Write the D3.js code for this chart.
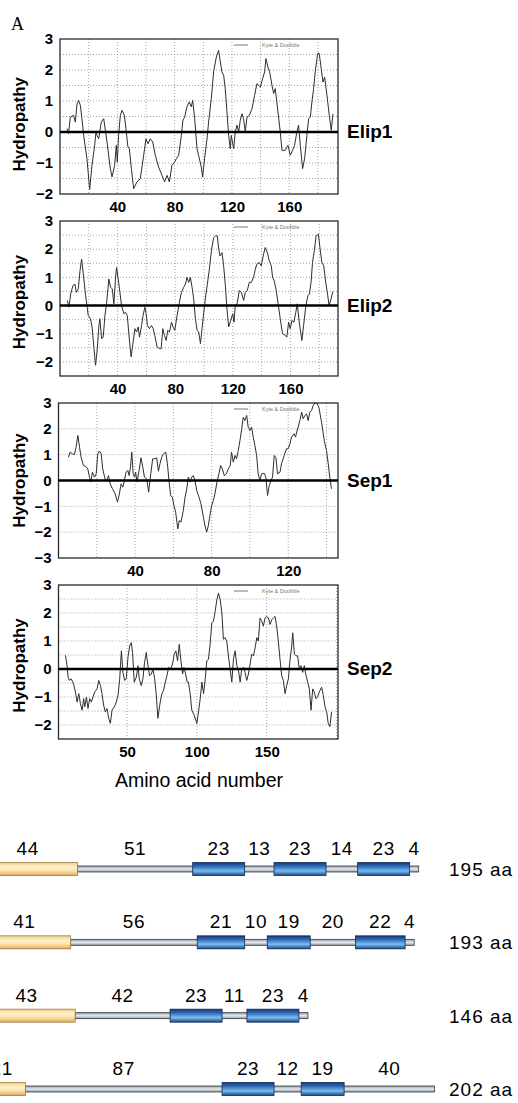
<!doctype html>
<html>
<head>
<meta charset="UTF-8">
<title>Hydropathy plots</title>
<style>
  body { margin: 0; background: #fff; }
  svg { display: block; font-family: "Liberation Sans", Arial, Helvetica, sans-serif; }
</style>
</head>
<body>
<div id="chart"></div>
<script src="https://cdn.jsdelivr.net/npm/d3@7"></script>
<script>
// hydropathy profiles, [amino acid position, Kyte & Doolittle value]
var elip1 = [[4.9,0.11],[6.0,-0.05],[7.2,0.48],[9.5,0.54],[10.7,0.32],[11.9,0.91],[13.0,1.02],[14.2,0.86],[15.3,0.43],[16.5,-0.11],[18.8,-0.86],[20.7,-1.85],[22.3,-1.08],[24.2,-0.43],[25.1,0],[25.8,-0.11],[27.0,-0.22],[28.8,0.32],[30.5,0.43],[32.8,-0.32],[35.1,-1.18],[36.3,-1.45],[38.1,-1.08],[39.3,-0.43],[40.0,-0.97],[40.9,-0.11],[42.1,0.54],[43.3,0.70],[44.9,0.54],[46.0,0.11],[47.4,-0.48],[48.4,-0.54],[49.8,-1.18],[51.4,-1.83],[53.7,-1.61],[56.0,-1.51],[58.4,-0.75],[60.0,-0.22],[61.4,-0.38],[63.0,-0.22],[64.7,-0.32],[66.5,-0.75],[68.8,-1.13],[71.2,-1.40],[73.0,-1.61],[74.7,-1.40],[76.3,-1.61],[78.1,-1.08],[80.0,-0.97],[81.2,-0.86],[82.8,-0.75],[84.7,-0.11],[85.8,0.38],[87.0,0.48],[88.6,0.81],[90.2,0.97],[91.6,0.81],[92.6,1.02],[94.0,0.43],[95.6,-0.54],[96.7,-0.75],[98.6,-1.13],[99.5,-1.45],[100.9,-0.86],[102.6,-0.22],[103.7,0.32],[105.6,1.08],[107.2,1.94],[109.1,2.42],[110.7,2.63],[111.9,2.26],[113.0,1.94],[114.2,1.83],[115.3,1.40],[116.5,0.65],[117.7,-0.11],[118.8,-0.54],[119.5,-0.11],[121.2,-0.54],[122.3,0],[123.5,0.22],[124.7,0],[125.8,0.38],[127.0,0.59],[128.1,0.43],[129.3,0],[130.5,0.48],[132.1,0.54],[134.0,0.75],[135.8,1.18],[137.4,1.56],[139.8,1.45],[141.4,1.72],[142.8,1.94],[143.7,2.37],[145.1,2.10],[146.3,1.94],[147.9,1.51],[149.1,1.24],[150.2,1.40],[152.1,0.65],[153.7,0],[154.9,-0.59],[157.2,-0.59],[159.1,-0.43],[160.7,-0.75],[162.3,-0.59],[163.7,-0.43],[165.3,0],[166.5,0.22],[167.7,-0.43],[169.3,-1.18],[170.7,-0.86],[172.3,-0.11],[173.5,0.43],[174.7,0.48],[175.8,0.97],[177.0,1.40],[178.1,1.94],[179.8,2.53],[180.9,2.53],[182.3,2.04],[183.5,1.61],[184.7,1.77],[186.3,1.18],[187.9,0.54],[189.3,0.05],[190.5,0.59]];

var elip2 = [[5.1,0.18],[6.2,-0.06],[7.4,0.41],[9.0,0.71],[10.4,0.76],[11.3,0.47],[12.7,0.59],[13.9,1.24],[15.0,1.65],[16.2,1.12],[17.8,0.35],[18.9,-0.06],[19.6,-0.35],[21.2,-0.47],[22.4,-0.82],[23.6,-1.53],[24.7,-2.12],[25.9,-1.53],[27.0,-0.71],[27.7,-0.47],[28.9,-1.18],[30.0,-1.12],[31.2,-0.35],[32.3,0.06],[33.9,0.94],[35.1,0.65],[36.3,0.59],[37.4,0.06],[38.6,1.0],[39.3,1.35],[40.4,0.94],[41.3,0.59],[42.7,0],[44.3,-0.29],[45.5,-0.24],[46.7,-0.35],[48.3,-1.29],[49.4,-1.82],[50.8,-1.29],[52.0,-0.82],[53.1,-0.94],[54.3,-0.76],[55.2,-1.12],[56.6,-0.71],[57.7,-0.35],[58.9,-0.06],[59.8,-0.29],[60.7,-0.71],[62.1,-0.82],[63.5,-0.71],[64.7,-0.82],[65.8,-1.06],[67.4,-1.47],[69.1,-1.53],[70.2,-1.53],[71.4,-0.82],[72.5,-1.06],[73.7,-1.24],[74.8,-0.88],[76.0,-0.94],[77.4,-0.59],[78.5,-0.76],[79.7,-0.88],[81.3,-0.35],[82.9,0.12],[84.3,0.47],[85.9,0.65],[87.1,0.76],[88.2,1.0],[89.4,0.82],[90.5,1.0],[91.7,0.65],[92.8,0.24],[94.0,-0.47],[95.2,-0.88],[96.3,-0.94],[97.5,-1.35],[98.6,-0.82],[99.8,-0.24],[100.9,0.24],[102.3,0.76],[103.7,1.29],[105.1,1.94],[106.7,2.41],[107.9,2.47],[109.2,2.47],[110.2,2.0],[111.1,1.76],[112.5,1.88],[113.6,1.41],[114.8,0.71],[115.9,-0.12],[117.1,-0.76],[118.5,-0.53],[119.9,-0.29],[120.8,-0.59],[121.7,0],[122.9,0.06],[124.5,0.53],[125.9,0.47],[127.5,0.18],[128.6,0.47],[130.0,0.53],[131.4,0.82],[132.8,0.82],[134.4,1.0],[135.6,1.29],[136.7,1.47],[138.3,1.53],[139.7,1.41],[141.3,1.82],[142.5,2.06],[143.9,1.88],[145.3,1.59],[146.7,1.41],[147.6,1.0],[148.7,0.88],[149.9,0.59],[151.3,0.12],[152.9,-0.47],[154.5,-1.0],[156.4,-1.06],[157.5,-1.12],[158.7,-0.59],[159.8,-0.82],[161.0,-0.53],[162.4,-0.59],[163.7,-0.24],[164.7,0.06],[166.1,-0.59],[167.9,-1.24],[169.1,-0.71],[170.7,0],[172.1,0.35],[173.2,0.41],[174.4,0.88],[175.3,1.53],[176.7,2.0],[177.8,2.47],[179.4,2.53],[180.6,2.0],[181.8,1.53],[183.1,1.41],[184.5,0.82],[185.9,0.35],[186.8,0],[188.2,0.24],[189.4,0.5]];

var sep1 = [[5.2,0.9],[6.1,1.1],[7.3,1.03],[8.3,1.0],[9.2,1.29],[10.1,1.74],[11.0,1.29],[11.8,0.9],[13.0,0.58],[14.3,0.54],[15.3,0.45],[16.2,0.13],[16.9,-0.06],[17.7,0.32],[18.8,0.13],[19.7,0.26],[20.5,1.03],[21.4,1.14],[22.3,1.03],[23.1,0.45],[24.3,0.06],[25.2,0],[26.1,0.19],[27.0,-0.13],[28.2,-0.32],[29.6,-0.52],[30.8,-0.84],[31.8,-0.52],[32.7,-0.13],[33.6,-0.26],[34.4,0],[35.3,0.32],[36.2,0.39],[36.9,0.19],[37.6,0.52],[38.3,1.1],[39.0,0.26],[39.7,0.13],[40.3,0.32],[41.0,-0.06],[42.1,0.39],[43.1,0.88],[44.0,0.52],[44.9,0.13],[46.1,0.06],[47.1,-0.45],[48.2,0.26],[49.2,0.84],[50.4,0.84],[51.3,0.88],[52.2,0.36],[53.0,0.65],[53.9,0.9],[54.8,1.03],[56.0,1.1],[56.9,0.65],[57.7,0],[58.6,-0.58],[59.5,-0.65],[60.3,-0.97],[61.2,-1.23],[62.3,-1.87],[63.1,-1.55],[64.0,-1.61],[65.2,-1.16],[66.1,-0.65],[67.0,-0.32],[67.8,0.13],[68.7,-0.06],[69.6,0.13],[70.4,0.19],[71.3,0],[72.2,-0.39],[73.4,-0.65],[74.4,-0.9],[75.7,-1.42],[76.5,-1.74],[77.4,-2.0],[78.3,-1.74],[79.1,-1.35],[80.0,-0.97],[80.9,-0.77],[81.7,-0.52],[82.8,-0.06],[83.8,0.26],[84.7,0.58],[85.6,0.45],[86.6,0.19],[87.7,0.26],[88.7,0.45],[89.7,0.58],[90.4,1.1],[91.3,0.71],[92.2,0.97],[93.0,0.84],[93.9,1.16],[94.8,1.55],[95.7,2.0],[96.5,2.45],[97.4,2.32],[98.3,2.52],[99.1,2.06],[100.0,1.94],[100.9,2.06],[101.7,1.68],[102.6,1.35],[103.5,0.97],[104.3,0.26],[105.2,0],[106.1,0.26],[107.5,0.28],[108.3,0.13],[109.2,-0.58],[110.1,-0.19],[111.0,0],[111.8,0.13],[112.7,0.97],[113.6,0.88],[114.4,0.26],[115.7,0.32],[116.5,0.65],[117.9,0.97],[119.1,1.23],[120.0,1.23],[120.9,1.42],[121.7,1.68],[123.1,1.81],[123.8,1.68],[124.9,2.0],[126.1,2.32],[127.0,2.65],[127.8,2.39],[128.7,2.52],[129.6,2.58],[130.4,2.32],[131.3,2.65],[132.2,2.71],[133.0,2.9],[133.9,3.0],[134.8,3.0],[136.0,2.84],[137.4,2.26],[138.8,1.55],[140.0,1.16],[140.9,0.65],[141.7,0.13],[142.6,-0.32]];

var sep2 = [[6.0,0.49],[7.1,0.12],[7.9,-0.29],[8.8,-0.41],[10.0,-0.35],[11.2,-0.47],[12.1,-0.59],[13.1,-0.82],[14.3,-1.18],[15.5,-0.88],[16.7,-1.24],[17.9,-1.47],[19.0,-1.06],[19.8,-1.35],[21.0,-1.0],[22.1,-1.41],[23.3,-1.06],[24.5,-1.18],[25.7,-1.0],[26.9,-0.82],[28.6,-0.71],[29.8,-0.41],[31.0,-0.59],[32.1,-0.88],[33.3,-1.29],[34.5,-1.53],[35.7,-1.41],[36.9,-1.76],[38.1,-1.94],[39.3,-1.47],[41.0,-1.35],[42.4,-1.18],[43.6,-0.94],[44.8,-0.35],[46.0,0.65],[47.1,-0.12],[48.3,-0.41],[49.5,-0.35],[50.7,0.41],[51.9,0.82],[53.1,0.94],[54.0,0.59],[55.2,-0.47],[56.7,-0.29],[57.9,0.12],[58.8,-0.35],[60.2,-0.59],[61.4,-0.35],[62.6,0.24],[63.8,0.59],[65.0,0.12],[66.2,-0.24],[67.4,-0.18],[68.6,0],[69.8,-0.35],[71.0,-0.94],[72.1,-1.76],[73.8,-1.18],[75.0,-0.88],[76.2,-0.76],[77.4,-0.47],[78.6,-0.24],[79.8,0.06],[81.2,0],[82.6,0.18],[83.8,0.53],[85.0,0.65],[86.2,0.29],[87.4,0.88],[88.6,0.29],[89.8,-0.18],[90.7,0.06],[91.7,-0.12],[93.1,-0.47],[94.0,-0.47],[95.2,-0.88],[96.4,-1.47],[98.1,-1.65],[100.0,-1.94],[101.2,-1.53],[102.4,-1.06],[103.6,-0.47],[104.8,-0.88],[106.0,-0.35],[107.1,0.29],[108.3,0.35],[109.5,0.88],[110.7,1.65],[111.9,1.71],[113.1,2.06],[114.3,2.47],[115.5,2.71],[116.7,2.47],[117.9,2.0],[119.0,1.06],[120.2,1.12],[121.4,1.0],[122.6,0.47],[123.8,0],[125.0,-0.47],[126.2,0.35],[127.4,0.65],[128.6,0.12],[129.8,-0.06],[131.0,-0.47],[132.1,0],[133.3,0.06],[134.5,-0.12],[135.7,-0.41],[136.9,-0.18],[138.1,0.18],[139.3,0.53],[140.5,0.47],[141.7,0.76],[142.9,1.12],[144.0,1.0],[145.2,1.82],[146.4,1.71],[147.6,1.53],[148.8,1.82],[150.0,1.88],[151.2,1.82],[152.4,1.59],[153.6,1.76],[154.8,1.82],[156.0,1.88],[157.1,1.53],[158.3,1.0],[159.5,0.35],[160.7,-0.24],[161.9,-0.41],[163.1,-0.88],[164.3,-0.59],[165.5,-0.35],[166.7,0.35],[167.9,0.82],[168.6,1.29],[169.8,0.53],[171.0,0.47],[172.1,0.47],[173.3,0],[174.5,0.12],[175.7,-0.12],[176.9,0.12],[177.9,-0.18],[179.3,-0.47],[180.5,-0.71],[181.7,-1.47],[182.9,-0.71],[184.0,-0.82],[185.2,-1.06],[186.4,-1.0],[187.6,-0.82],[189.3,-0.65],[190.5,-0.94],[191.7,-1.35],[192.9,-1.53],[194.0,-1.94],[195.2,-2.06],[196.4,-1.53]];

// axis ticks
var elipXTicks = [40, 80, 120, 160];
var sep1XTicks = [40, 80, 120];
var sep2XTicks = [50, 100, 150];
var yTicks3to2 = [3, 2, 1, 0, -1, -2];
var yTicks3to3 = [3, 2, 1, 0, -1, -2, -3];

// domain structure: segment lengths in aa (N-term, loop, TM, loop, TM, ...)
var proteinNames = ["Elip1", "Elip2", "Sep1", "Sep2"];
var elip1Segs = [44, 51, 23, 13, 23, 14, 23, 4];
var elip2Segs = [41, 56, 21, 10, 19, 20, 22, 4];
var sep1Segs  = [43, 42, 23, 11, 23, 4];
var sep2Segs  = [21, 87, 23, 12, 19, 40];
var proteinLengths = [195, 193, 146, 202];

var W = 518, H = 1103;
var svg = d3.select("#chart").append("svg")
    .attr("width", W).attr("height", H);

// gradients for the domain bars
var defs = svg.append("defs");
function grad(id, stops) {
  var g = defs.append("linearGradient").attr("id", id)
      .attr("x1", 0).attr("y1", 0).attr("x2", 0).attr("y2", 1);
  stops.forEach(function(s) {
    g.append("stop").attr("offset", s[0]).attr("stop-color", s[1]);
  });
}
grad("gYellow", [[0, "#f2cf86"], [0.35, "#fdf0cc"], [0.6, "#fbe6b2"], [1, "#e2ad5c"]]);
grad("gBlue", [[0, "#173a78"], [0.3, "#2f6cb8"], [0.65, "#79bdf0"], [1, "#1d4688"]]);
grad("gLine", [[0, "#8e98a3"], [0.5, "#e4ebf2"], [1, "#8e98a3"]]);

svg.append("text")
    .attr("x", 11).attr("y", 30)
    .style("font-family", "'Liberation Serif', 'Times New Roman', serif")
    .style("font-size", "18px")
    .text("A");

var panels = [
  {name: proteinNames[0], data: elip1, x: [0, 194], y: [-2, 3], top: 39, bottom: 194, left: 60,
   xTicks: elipXTicks, yTicks: yTicks3to2, vStep: 20, hStep: 0.5},
  {name: proteinNames[1], data: elip2, x: [0, 193], y: [-2.5, 3], top: 221, bottom: 376, left: 60,
   xTicks: elipXTicks, yTicks: yTicks3to2, vStep: 20, hStep: 0.5},
  {name: proteinNames[2], data: sep1, x: [0, 146], y: [-3, 3], top: 403, bottom: 558, left: 58.5,
   xTicks: sep1XTicks, yTicks: yTicks3to3, vStep: 20, hStep: 1},
  {name: proteinNames[3], data: sep2, x: [1, 201], y: [-2.5, 3], top: 585, bottom: 739, left: 58.5,
   xTicks: sep2XTicks, yTicks: yTicks3to2, vStep: 50, hStep: 0.5}
];
var right = 338;

panels.forEach(function(p) {
  var x = d3.scaleLinear().domain(p.x).range([p.left, right]);
  var y = d3.scaleLinear().domain(p.y).range([p.bottom, p.top]);
  var g = svg.append("g");

  // dotted grid
  d3.range(Math.ceil(p.x[0] / p.vStep) * p.vStep, p.x[1], p.vStep).forEach(function(v) {
    if (v <= p.x[0]) return;
    g.append("line").attr("x1", x(v)).attr("x2", x(v))
        .attr("y1", p.top).attr("y2", p.bottom)
        .attr("stroke", "#8a8a8a").attr("stroke-width", 0.8)
        .attr("stroke-dasharray", "1,2");
  });
  d3.range(p.y[0] + p.hStep, p.y[1], p.hStep).forEach(function(v) {
    if (Math.abs(v) < 1e-6) return;
    g.append("line").attr("x1", p.left).attr("x2", right)
        .attr("y1", y(v)).attr("y2", y(v))
        .attr("stroke", "#8a8a8a").attr("stroke-width", 0.8)
        .attr("stroke-dasharray", "1,2");
  });

  // frame
  g.append("rect")
      .attr("x", p.left).attr("y", p.top)
      .attr("width", right - p.left).attr("height", p.bottom - p.top)
      .attr("fill", "none").attr("stroke", "#2a2a2a").attr("stroke-width", 1.3);

  // tiny method legend
  g.append("line")
      .attr("x1", right - 104).attr("x2", right - 90)
      .attr("y1", p.top + 6).attr("y2", p.top + 6)
      .attr("stroke", "#555").attr("stroke-width", 0.8);
  g.append("text")
      .attr("x", right - 76).attr("y", p.top + 8)
      .attr("fill", "#777").style("font-size", "5.5px")
      .text("Kyte & Doolittle");

  // hydropathy curve
  var line = d3.line().x(function(d) { return x(d[0]); }).y(function(d) { return y(d[1]); });
  g.append("path").datum(p.data)
      .attr("d", line)
      .attr("fill", "none").attr("stroke", "#2e2e2e").attr("stroke-width", 1)
      .attr("stroke-linejoin", "round");

  // zero line
  g.append("line")
      .attr("x1", p.left).attr("x2", right)
      .attr("y1", y(0)).attr("y2", y(0))
      .attr("stroke", "#000").attr("stroke-width", 2.6);

  // axes (labels only)
  var ya = g.append("g").attr("transform", "translate(" + p.left + ",0)")
      .call(d3.axisLeft(y).tickValues(p.yTicks).tickSize(0).tickPadding(7).tickFormat(d3.format("d")));
  ya.select(".domain").remove();
  ya.selectAll("text").style("font-size", "15px").style("font-weight", "bold")
      .style("font-family", "'Liberation Sans', Arial, sans-serif").attr("fill", "#000");

  var xa = g.append("g").attr("transform", "translate(0," + p.bottom + ")")
      .call(d3.axisBottom(x).tickValues(p.xTicks).tickSize(0).tickPadding(7));
  xa.select(".domain").remove();
  xa.selectAll("text").style("font-size", "15px").style("font-weight", "bold")
      .style("font-family", "'Liberation Sans', Arial, sans-serif").attr("fill", "#000");

  // y label
  var cy = ((p.top + p.bottom) / 2 + y(0)) / 2;
  g.append("text")
      .attr("transform", "translate(25," + cy + ") rotate(-90)")
      .attr("text-anchor", "middle")
      .style("font-size", "17px").style("font-weight", "bold")
      .text("Hydropathy");

  // protein name
  g.append("text")
      .attr("x", 347).attr("y", y(0) + 6)
      .style("font-size", "19px").style("font-weight", "bold")
      .text(p.name);
});

svg.append("text")
    .attr("x", 199).attr("y", 787)
    .attr("text-anchor", "middle")
    .style("font-size", "19.5px")
    .text("Amino acid number");

// ---- domain diagrams ----
var segs = [elip1Segs, elip2Segs, sep1Segs, sep2Segs];
var rowY = d3.scaleLinear().domain([0, 3]).range([869, 1089]);
var aa = d3.scaleLinear().domain([0, 202]).range([-22, 434.5]);

segs.forEach(function(s, i) {
  var cy = rowY(i);
  var g = svg.append("g");
  var starts = [0];
  s.forEach(function(len, j) { starts.push(starts[j] + len); });
  var total = starts[s.length];

  // thin connector running from N-terminal block to C-terminus
  g.append("rect")
      .attr("x", aa(s[0])).attr("y", cy - 3)
      .attr("width", aa(total) - aa(s[0])).attr("height", 6)
      .attr("fill", "url(#gLine)").attr("stroke", "#3a3a3a").attr("stroke-width", 0.8);

  s.forEach(function(len, j) {
    var a0 = starts[j], a1 = starts[j + 1];
    if (j === 0) {
      g.append("rect")
          .attr("x", aa(a0)).attr("y", cy - 6.5)
          .attr("width", aa(a1) - aa(a0)).attr("height", 13)
          .attr("fill", "url(#gYellow)").attr("stroke", "#9c7a45").attr("stroke-width", 0.8);
    } else if (j % 2 === 0) {
      g.append("rect")
          .attr("x", aa(a0)).attr("y", cy - 6.5)
          .attr("width", aa(a1) - aa(a0)).attr("height", 13)
          .attr("fill", "url(#gBlue)").attr("stroke", "#102a55").attr("stroke-width", 0.8);
    }
    g.append("text")
        .attr("x", aa((a0 + a1) / 2)).attr("y", cy - 14)
        .attr("text-anchor", "middle")
        .style("font-size", "19px").style("letter-spacing", "0.6px")
        .text(len);
  });

  g.append("text")
      .attr("x", 449).attr("y", cy + 7)
      .style("font-size", "19px").style("letter-spacing", "1px")
      .text(proteinLengths[i] + " aa");
});
</script>
</body>
</html>
